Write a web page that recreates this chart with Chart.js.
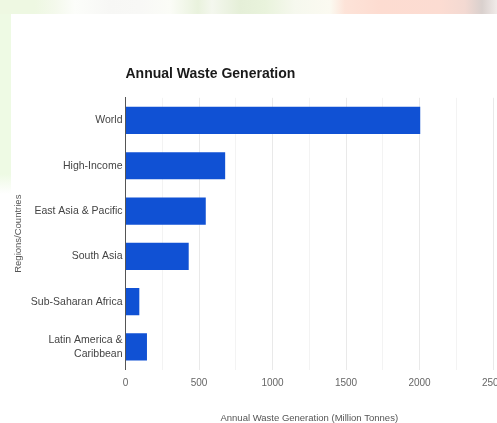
<!DOCTYPE html>
<html>
<head>
<meta charset="utf-8">
<script src="https://cdn.jsdelivr.net/npm/chart.js@4.4.1/dist/chart.umd.min.js"></script>
<style>
  html, body { margin: 0; padding: 0; width: 497px; height: 423px; overflow: hidden; background: #ffffff; }
  .strip-top {
    position: absolute; left: 0; top: 0; width: 497px; height: 14px;
    background: linear-gradient(to right,
      #eef8e2 0px, #eef8e2 35px, #f4f9ec 55px, #fcfdfa 75px, #f7f7f5 110px, #f8f8f6 140px,
      #fbfcf7 170px, #e9f2dd 198px, #f4f7ee 212px, #e5efd8 240px, #e9f3dc 265px,
      #f6f8ee 295px, #fbfaf1 330px, #fde3d8 345px, #fddcd1 380px, #fcdcd2 440px,
      #f3d9d2 465px, #d9d0cd 482px, #f1ebe9 497px);
  }
  .strip-left {
    position: absolute; left: 0; top: 14px; width: 11px; height: 180px;
    background: linear-gradient(to bottom, #eefae4 0px, #eefae4 160px, #ffffff 180px);
  }
  .card {
    position: absolute; left: 11px; top: 14px; width: 486px; height: 409px; background: #ffffff;
  }
</style>
</head>
<body>
<div class="strip-top"></div>
<div class="strip-left"></div>
<div class="card"><canvas id="chart"></canvas></div>
<script>
// Regions and their yearly municipal waste, in million tonnes
const regions = [
  'World',
  'High-Income',
  'East Asia & Pacific',
  'South Asia',
  'Sub-Saharan Africa',
  ['Latin America &', 'Caribbean']
];
const wasteMillionTonnes = [2005, 678, 546, 430, 94, 146];

// Value axis: labelled every 500, with a grid line every 250
const axisMin = 0;
const axisMax = 2500;
const gridStep = 250;
const labelStep = 500;

const chartTitle = 'Annual Waste Generation';
const valueAxisTitle = 'Annual Waste Generation (Million Tonnes)';
const categoryAxisTitle = 'Regions/Countries';

Chart.defaults.font.family = '"Liberation Sans", Arial, Helvetica, sans-serif';

new Chart(document.getElementById('chart'), {
  type: 'bar',
  data: {
    labels: regions,
    datasets: [{
      label: valueAxisTitle,
      data: wasteMillionTonnes,
      backgroundColor: '#1051d4',
      borderWidth: 0,
      categoryPercentage: 1,
      barPercentage: 0.6
    }]
  },
  options: {
    indexAxis: 'y',
    responsive: true,
    maintainAspectRatio: false,
    animation: false,
    layout: { padding: { left: 0, right: 4, top: 0, bottom: -1 } },
    plugins: {
      legend: { display: false },
      tooltip: { enabled: false },
      title: {
        display: true,
        text: chartTitle,
        align: 'start',
        fullSize: false,
        color: '#1a1a1a',
        font: { size: 14, weight: 'bold' },
        padding: { top: 52, bottom: 15 }
      }
    },
    scales: {
      x: {
        type: 'linear',
        min: axisMin,
        max: axisMax,
        border: { display: false },
        grid: {
          drawTicks: false,
          color: (ctx) => {
            const v = ctx.tick ? ctx.tick.value : 0;
            if (v === 0) return 'rgba(0,0,0,0)';
            return v % labelStep === 0 ? '#e9e9e9' : '#f3f3f3';
          }
        },
        ticks: {
          stepSize: gridStep,
          padding: 7.5,
          color: '#666666',
          font: { size: 10 },
          maxRotation: 0,
          autoSkip: false,
          callback: (value) => (value % labelStep === 0 ? String(value) : '')
        },
        title: {
          display: true,
          text: valueAxisTitle,
          color: '#555555',
          font: { size: 9.5 },
          padding: { top: 16, bottom: 0 }
        },
        afterFit: (scale) => { scale.paddingRight = 0; scale.paddingLeft = 0; }
      },
      y: {
        grid: { display: false, drawTicks: false },
        border: { display: true, color: '#555555', width: 1 },
        ticks: {
          padding: 3,
          color: '#444444',
          font: { size: 10.5, lineHeight: 1.3 },
          autoSkip: false
        },
        title: {
          display: true,
          text: categoryAxisTitle,
          color: '#555555',
          font: { size: 9.5 },
          padding: { top: 2, bottom: 0 }
        },
        afterFit: (scale) => { scale.width = 114.5; }
      }
    }
  }
});
</script>
</body>
</html>
